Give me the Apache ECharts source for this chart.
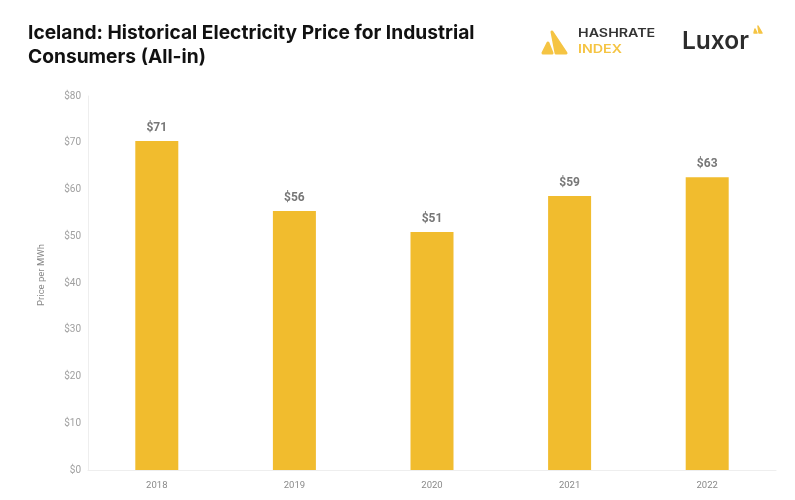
<!doctype html>
<html>
<head>
<meta charset="utf-8">
<title>Iceland electricity price</title>
<style>html,body{margin:0;padding:0;background:#fff}#main{width:795px;height:500px}</style>
</head>
<body>
<div id="main"></div>
<script src="https://cdn.jsdelivr.net/npm/echarts@6/dist/echarts.min.js"></script>
<script>
var years = ['2018', '2019', '2020', '2021', '2022'];
var prices = [70.4, 55.4, 50.9, 58.6, 62.6];
var priceLabels = ['$71', '$56', '$51', '$59', '$63'];

var chart = echarts.init(document.getElementById('main'));

function triangle(points, fill, width) {
    return {
        type: 'polygon',
        shape: {points: points},
        style: {fill: fill, stroke: fill, lineWidth: width, lineJoin: 'round'},
        silent: true
    };
}

chart.setOption({
    animation: false,
    textStyle: {fontFamily: 'Roboto'},
    title: {
        text: 'Iceland: Historical Electricity Price for Industrial\nConsumers (All-in)',
        left: 23,
        top: 16,
        textStyle: {fontFamily: 'Inter', fontSize: 19.2, fontWeight: 700, color: '#111', lineHeight: 24}
    },
    grid: {left: 88, right: 19, top: 96, bottom: 30},
    xAxis: {
        type: 'category',
        data: years,
        axisLine: {lineStyle: {color: '#eeeeee'}},
        axisTick: {show: false},
        axisLabel: {color: '#8a8a8a', fontSize: 9.5, margin: 11}
    },
    yAxis: {
        type: 'value',
        min: 0,
        max: 80,
        interval: 10,
        name: 'Price per MWh',
        nameLocation: 'middle',
        nameGap: 41,
        nameTextStyle: {color: '#8a8a8a', fontSize: 9.5, padding: [0, 0, 0, 16]},
        axisLine: {show: true, lineStyle: {color: '#eeeeee'}},
        axisTick: {show: false},
        splitLine: {show: false},
        axisLabel: {color: '#a0a0a0', fontSize: 10, margin: 7, formatter: '${value}'}
    },
    series: [{
        type: 'bar',
        data: prices,
        barWidth: 43,
        itemStyle: {color: '#f1bc2e'},
        label: {
            show: true,
            position: 'top',
            distance: 7,
            color: '#777777',
            fontSize: 12,
            fontWeight: 700,
            formatter: function (p) { return priceLabels[p.dataIndex]; }
        }
    }],
    graphic: [
        triangle([[552, 32], [566, 53], [556, 53]], '#f5c443', 3),
        triangle([[548, 43], [552, 53], [543, 53]], '#f5c443', 3),
        {type: 'text', silent: true, x: 578, y: 28, scaleX: 1.24, style: {text: 'HASHRATE', fill: '#333', font: '600 11.5px Inter'}},
        {type: 'text', silent: true, x: 578, y: 44, scaleX: 1.24, style: {text: 'INDEX', fill: '#f5c443', font: '600 11.5px Inter'}},
        {type: 'text', silent: true, x: 682, y: 29, style: {text: 'Luxor', fill: '#2c2c2c', font: '600 24.5px Inter'}},
        triangle([[758, 26], [762, 33], [759, 33]], '#f5c443', 1.5),
        triangle([[755, 29], [757, 33], [754, 33]], '#f5c443', 1.5)
    ]
});

window.onresize = chart.resize;
</script>
</body>
</html>
